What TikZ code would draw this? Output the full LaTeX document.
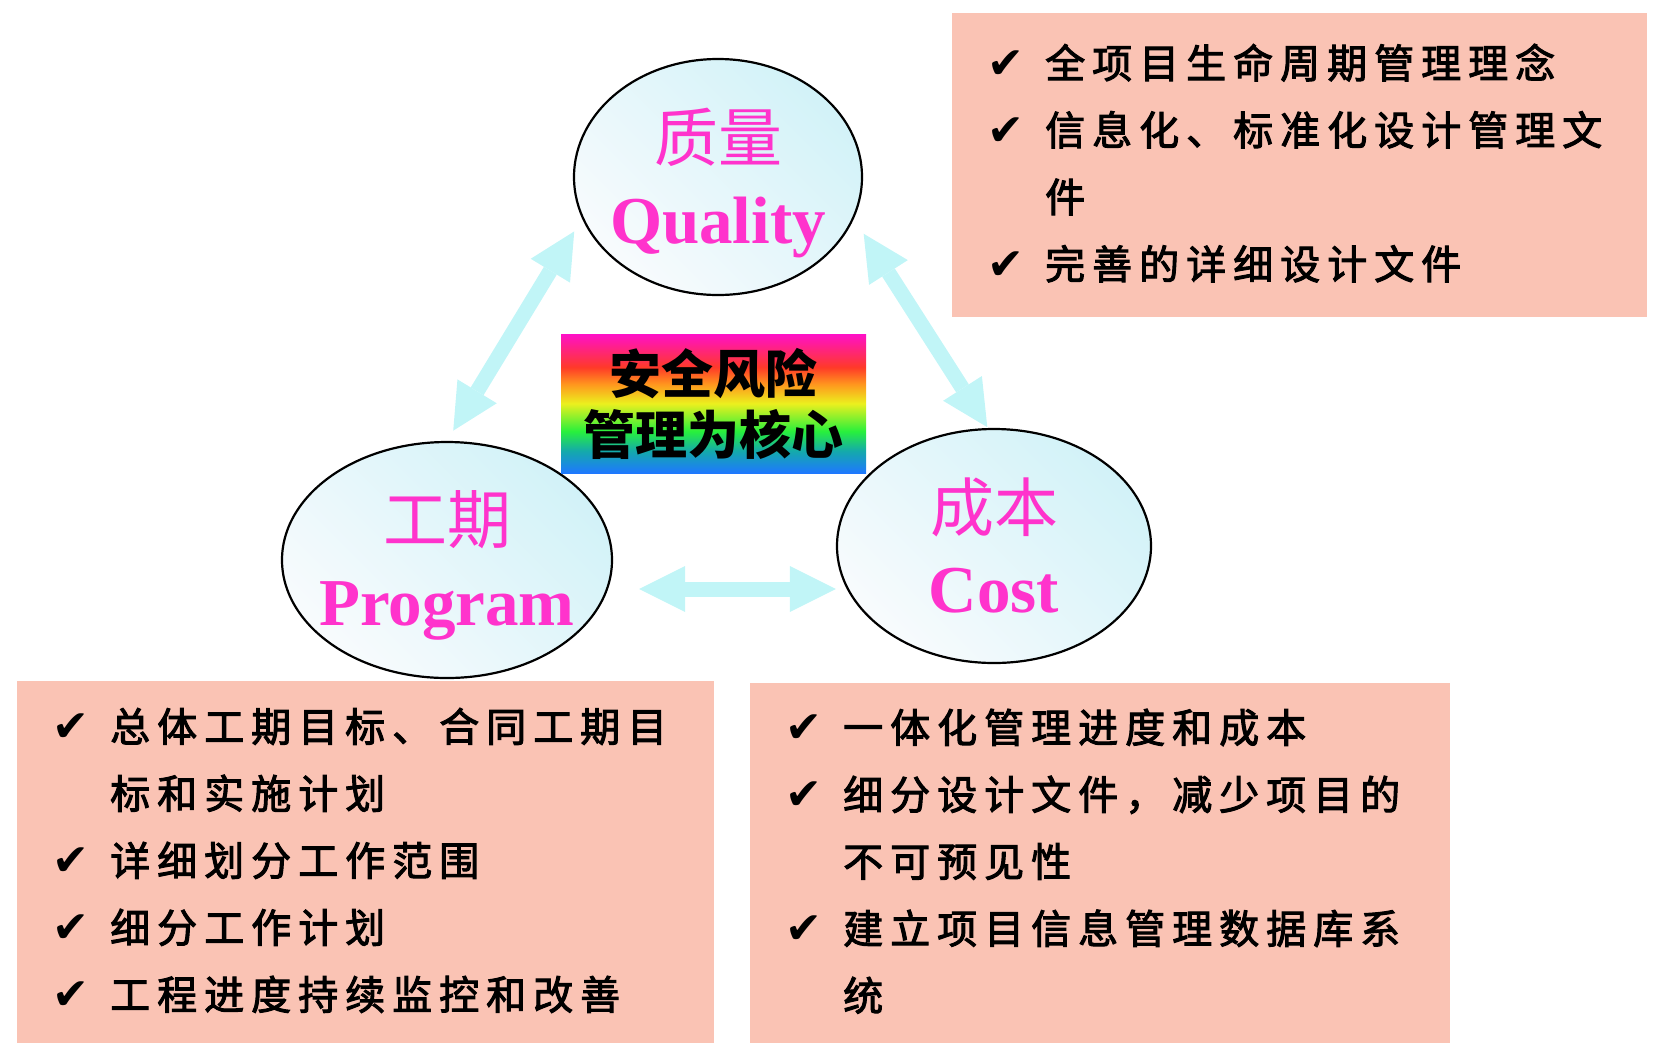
\documentclass[tikz,border=0pt]{standalone}
\usepackage{fontspec}
\usepackage{array}
\usetikzlibrary{shapes.geometric}
\usetikzlibrary{arrows.meta}
\usetikzlibrary{positioning}

\newfontfamily\cjk{Noto Sans CJK SC}
\newfontfamily\cjklist[LetterSpace=17.5, FakeBold=2.5]{Noto Sans CJK SC}
\newfontfamily\latin{Liberation Serif}
\newfontfamily\symb{DejaVu Sans}

\definecolor{titlepink}{RGB}{255,51,204}
\definecolor{listfill}{RGB}{250,195,180}
\definecolor{arrowcyan}{RGB}{193,245,247}
\definecolor{ovaltop}{RGB}{210,242,248}
\definecolor{ovalbottom}{RGB}{248,251,253}
\definecolor{rbblue}{RGB}{30,120,255}
\definecolor{rbteal}{RGB}{20,170,170}
\definecolor{rbgreen}{RGB}{40,240,60}
\definecolor{rbyellow}{RGB}{235,240,30}
\definecolor{rborange}{RGB}{255,150,30}
\definecolor{rbred}{RGB}{255,58,40}
\definecolor{rbmagenta}{RGB}{255,16,200}

% the path is mapped onto 25bp..75bp of the shading
\pgfdeclareverticalshading{rainbowfade}{100bp}{color(0bp)=(rbblue); color(25bp)=(rbblue); color(33bp)=(rbteal); color(40bp)=(rbgreen); color(50bp)=(rbyellow); color(57bp)=(rborange); color(63bp)=(rbred); color(75bp)=(rbmagenta); color(100bp)=(rbmagenta)}

\newcommand{\chk}{{\symb\fontsize{44}{44}\selectfont ✔}}

\begin{document}
\begin{tikzpicture}
          [x=1pt, y=-1pt,
           oval/.style={draw, ellipse, line width=2.2pt, top color=ovaltop, bottom color=ovalbottom, shading angle=-45},
           zhtitle/.style={text=titlepink, font=\cjk\fontsize{64}{64}\selectfont, inner sep=0pt},
           entitle/.style={text=titlepink, font=\latin\bfseries\fontsize{67}{67}\selectfont, inner sep=0pt, anchor=base},
           listbox/.style={fill=listfill, anchor=north west, inner xsep=35pt, inner ysep=0pt, align=left, font=\cjklist\fontsize{40}{67}\selectfont},
           corebox/.style={shade, shading=rainbowfade, minimum width=305pt, minimum height=139pt, align=center, inner sep=0pt, font=\cjk\bfseries\fontsize{52}{61}\selectfont},
           bigarrow/.style={arrowcyan, line width=15pt, {Triangle[length=46pt,width=46pt,line width=0pt]}-{Triangle[length=46pt,width=46pt,line width=0pt]}}]
          \useasboundingbox (0,0) rectangle (1656,1058);

          \node (quality) [oval, minimum width=288pt, minimum height=236pt] at (718,177) {};
          \node (program) [oval, minimum width=330pt, minimum height=236pt] at (447,560) {};
          \node (cost) [oval, minimum width=314pt, minimum height=234pt] at (994,546) {};

          \node (qualityzh) [zhtitle] at ([yshift=40pt]quality.center) {质量};
          \node (qualityen) [entitle] at ([yshift=-66pt]quality.center) {Quality};
          \node (programzh) [zhtitle] at ([yshift=40pt]program.center) {工期};
          \node (programen) [entitle] at ([yshift=-65pt]program.center) {Program};
          \node (costzh) [zhtitle] at ([yshift=39pt]cost.center) {成本};
          \node (costen) [entitle] at ([yshift=-66pt]cost.center) {Cost};

          \node (core) [corebox] at (713.5,403.5) {安全风险\\管理为核心};

          \node (qualitylist) [listbox, minimum height=304pt, text width=625pt] at (952,13) {%
            \begin{tabular}{@{}p{58pt}@{}l@{}}
              \chk & 全项目生命周期管理理念\\
              \chk & 信息化、标准化设计管理文\\
                   & 件\\
              \chk & 完善的详细设计文件
            \end{tabular}};
          \node (programlist) [listbox, minimum height=362pt, text width=627pt] at (17,681) {%
            \begin{tabular}{@{}p{58pt}@{}l@{}}
              \chk & 总体工期目标、合同工期目\\
                   & 标和实施计划\\
              \chk & 详细划分工作范围\\
              \chk & 细分工作计划\\
              \chk & 工程进度持续监控和改善
            \end{tabular}};
          \node (costlist) [listbox, minimum height=360pt, text width=630pt] at (750,683) {%
            \begin{tabular}{@{}p{58pt}@{}l@{}}
              \chk & 一体化管理进度和成本\\
              \chk & 细分设计文件，减少项目的\\
                   & 不可预见性\\
              \chk & 建立项目信息管理数据库系\\
                   & 统
            \end{tabular}};

          \draw[bigarrow, shorten <=15pt, shorten >=12pt] (quality.197) -- (program.north);
          \draw[bigarrow, shorten <=18pt, shorten >=1pt] (quality.343) -- (cost.93);
          \draw[bigarrow, shorten <=26pt] ([yshift=-29pt]program.east) -- ([yshift=-43pt]cost.west);

        \end{tikzpicture}
\end{document}
